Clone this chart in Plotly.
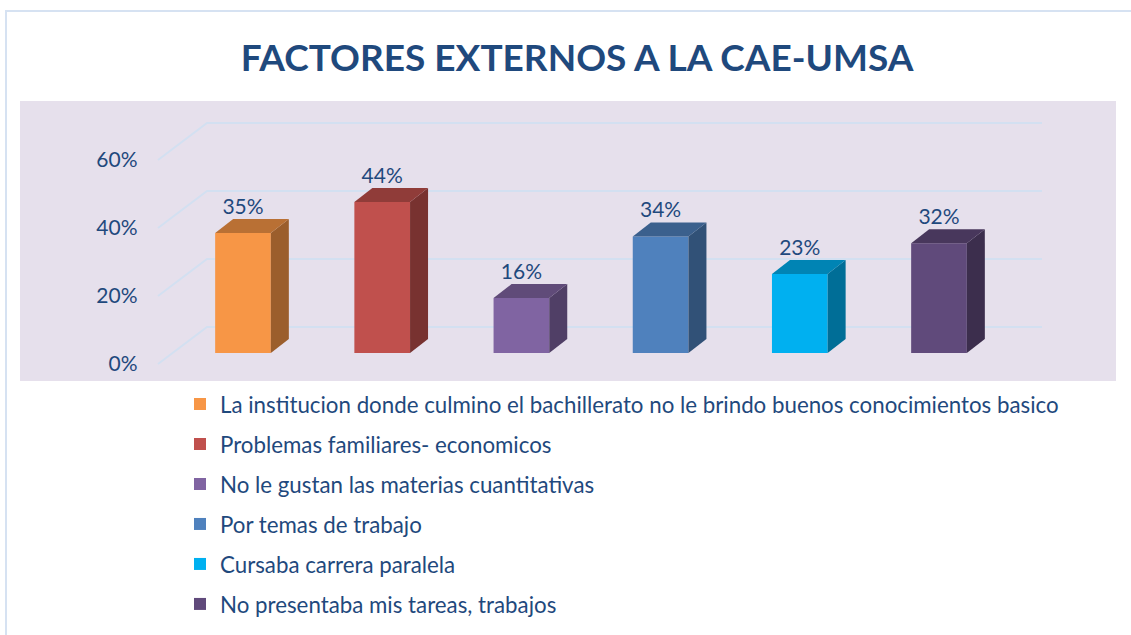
import plotly.graph_objects as go

W, H = 1131, 635

categories = [
    "La institucion donde culmino el bachillerato no le brindo buenos conocimientos basico",
    "Problemas familiares- economicos",
    "No le gustan las materias cuantitativas",
    "Por temas de trabajo",
    "Cursaba carrera paralela",
    "No presentaba mis tareas, trabajos",
]
values = [0.35, 0.44, 0.16, 0.34, 0.23, 0.32]
colors = ["#F79646", "#C0504D", "#8064A2", "#4F81BD", "#00B0F0", "#604A7B"]
y_ticks = [0, 0.2, 0.4, 0.6]

TEXT_COLOR = "#1F497D"
FONT = "Lato, 'Open Sans', sans-serif"

# pixel layout of the 3d look (excel style)
CAT_PX = 139.2          # px per category
X0_PX = 243             # centre of first bar
BAR_W = 0.4
DEPTH_X = 18 / CAT_PX   # bar depth, x units
DEPTH_Y = 14 / 343      # bar depth, bar axis units
WALL_DX = 49 / CAT_PX
WALL_DY = 37 / 340
WALL_LEFT = (158 - X0_PX) / CAT_PX
WALL_RIGHT = (1042 - X0_PX) / CAT_PX
PLOT_TOP, PLOT_BOTTOM = 101, 381


def px_x(p):
    return p / W


def px_y(p):
    return 1 - p / H


def shade(hex_color, f):
    h = hex_color.lstrip("#")
    r, g, b = (int(h[i:i + 2], 16) for i in (0, 2, 4))
    return "rgb({},{},{})".format(int(r * f), int(g * f), int(b * f))


fig = go.Figure()

# back wall grid lines (front-plane axis)
for t in y_ticks:
    fig.add_trace(go.Scatter(
        x=[WALL_LEFT, WALL_LEFT + WALL_DX, WALL_RIGHT],
        y=[t, t + WALL_DY, t + WALL_DY],
        mode="lines", line=dict(color="#D3E0F1", width=2),
        hoverinfo="skip", showlegend=False, yaxis="y"
    ))

# bars: front faces carry the legend
for i, (cat, v, c) in enumerate(zip(categories, values, colors)):
    fig.add_trace(go.Bar(
        x=[i], y=[v], width=BAR_W, name=cat,
        marker=dict(color=c, line=dict(width=0)),
        legendgroup=str(i), yaxis="y2", hoverinfo="skip"
    ))

for i, (v, c) in enumerate(zip(values, colors)):
    left, right = i - BAR_W / 2, i + BAR_W / 2
    # side face
    fig.add_trace(go.Scatter(
        x=[right, right + DEPTH_X, right + DEPTH_X, right, right],
        y=[0, DEPTH_Y, v + DEPTH_Y, v, 0],
        fill="toself", fillcolor=shade(c, 0.63), mode="lines",
        line=dict(width=0), hoverinfo="skip", showlegend=False,
        legendgroup=str(i), yaxis="y2"
    ))
    # top face
    fig.add_trace(go.Scatter(
        x=[left, left + DEPTH_X, right + DEPTH_X, right, left],
        y=[v, v + DEPTH_Y, v + DEPTH_Y, v, v],
        fill="toself", fillcolor=shade(c, 0.75), mode="lines",
        line=dict(width=0), hoverinfo="skip", showlegend=False,
        legendgroup=str(i), yaxis="y2"
    ))

# data labels
fig.add_trace(go.Scatter(
    x=list(range(len(values))), y=[v + DEPTH_Y for v in values],
    text=["{:.0%}".format(v) for v in values],
    mode="text", textposition="top center",
    textfont=dict(family=FONT, size=21, color=TEXT_COLOR),
    hoverinfo="skip", showlegend=False, yaxis="y2"
))

x_range = [-0.7, 6.0]
fig.update_layout(
    width=W, height=H, autosize=False,
    margin=dict(l=0, r=0, t=0, b=0),
    paper_bgcolor="white", plot_bgcolor="rgba(0,0,0,0)",
    barmode="overlay",
    font=dict(family=FONT, color=TEXT_COLOR),
    title=dict(
        text="<b>FACTORES EXTERNOS A LA CAE-UMSA</b>",
        x=px_x(577), xanchor="center", y=px_y(58), yanchor="middle",
        font=dict(family=FONT, size=37, color=TEXT_COLOR)
    ),
    xaxis=dict(
        range=x_range, visible=False,
        domain=[px_x(X0_PX + x_range[0] * CAT_PX), px_x(X0_PX + x_range[1] * CAT_PX)]
    ),
    yaxis=dict(
        range=[(364 - PLOT_BOTTOM) / 340, (364 - PLOT_TOP) / 340],
        domain=[px_y(PLOT_BOTTOM), px_y(PLOT_TOP)],
        tickvals=y_ticks, tickformat=".0%", ticks="",
        showgrid=False, zeroline=False, showline=False,
        ticklabelstandoff=7,
        tickfont=dict(family=FONT, size=21, color=TEXT_COLOR)
    ),
    yaxis2=dict(
        range=[(353 - PLOT_BOTTOM) / 343, (353 - PLOT_TOP) / 343],
        overlaying="y", visible=False
    ),
    legend=dict(
        x=px_x(180), xanchor="left", y=px_y(383), yanchor="top",
        orientation="v", tracegroupgap=8, bgcolor="rgba(0,0,0,0)",
        font=dict(family=FONT, size=22.3, color=TEXT_COLOR)
    ),
    shapes=[
        dict(type="rect", xref="paper", yref="paper", layer="below",
             x0=px_x(20), x1=px_x(1116), y0=px_y(PLOT_BOTTOM), y1=px_y(PLOT_TOP),
             fillcolor="#E6E0EC", line=dict(width=0)),
        dict(type="rect", xref="paper", yref="paper", layer="below",
             x0=px_x(6), x1=1.1, y0=-0.1, y1=px_y(11),
             fillcolor="rgba(0,0,0,0)", line=dict(color="#D6E2F2", width=2)),
    ],
)

fig.write_html("out.html", config={"displayModeBar": False},
               post_script="document.body.style.margin = '0';")
